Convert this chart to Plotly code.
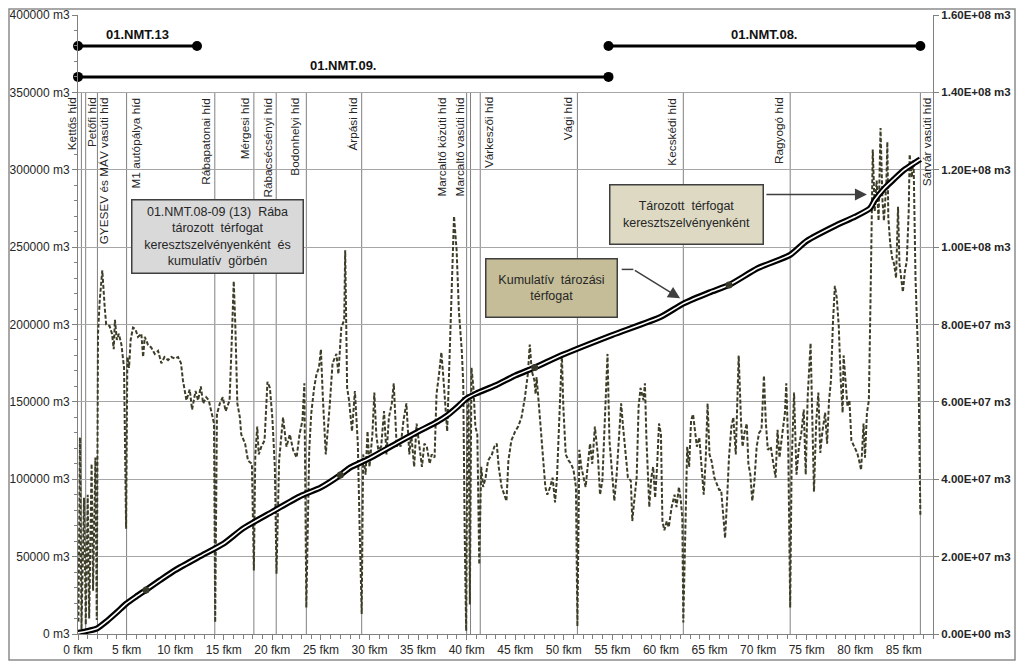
import plotly.graph_objects as go

# ---------------- DATA ----------------
dash_km = [0.05, 0.2, 0.36, 0.62, 0.8, 1.0, 1.15, 1.4, 1.55, 1.79, 1.93, 2.06, 2.23, 2.5, 2.75, 2.9,
           3.25, 3.5, 3.68, 3.8, 4.0, 4.2, 4.47, 4.74, 4.95, 5.08, 5.25, 5.42, 5.66, 5.9, 6.18, 6.52,
           6.7, 6.87, 7.2, 7.55, 7.9, 8.24, 8.58, 8.9, 9.27, 9.6, 9.96, 10.3, 10.6, 10.8, 11.16, 11.5,
           11.74, 12.1, 12.36, 12.64, 12.88, 13.2, 13.46, 13.73, 14.0, 14.12, 14.3, 14.6, 14.9, 15.2,
           15.45, 15.6, 15.8, 16.03, 16.2, 16.4, 16.66, 16.8, 17.2, 17.5, 17.9, 18.1, 18.25, 18.45,
           18.6, 18.87, 19.2, 19.5, 19.75, 20.0, 20.26, 20.43, 20.7, 21.1, 21.46, 21.8, 22.14, 22.5,
           22.8, 23.1, 23.3, 23.5, 23.8, 24.0, 24.3, 24.55, 24.8, 25.0, 25.2, 25.5, 25.9, 26.2, 26.6,
           26.8, 27.1, 27.4, 27.5, 27.7, 27.9, 28.2, 28.5, 28.8, 29.0, 29.2, 29.35, 29.6, 29.8, 30.0,
           30.3, 30.5, 30.7, 30.9, 31.2, 31.5, 31.75, 32.0, 32.3, 32.5, 32.8, 33.0, 33.2, 33.5, 33.8,
           34.1, 34.3, 34.6, 34.85, 35.1, 35.4, 35.65, 35.9, 36.2, 36.4, 36.7, 36.9, 37.16, 37.4, 37.6,
           37.8, 38.0, 38.3, 38.5, 38.7, 38.97, 39.2, 39.5, 39.65, 39.8, 39.95, 40.1, 40.2, 40.33, 40.5,
           40.7, 40.9, 41.1, 41.3, 41.5, 41.7, 41.95, 42.2, 42.6, 42.85, 43.1, 43.3, 43.6, 43.9, 44.1,
           44.3, 44.6, 45.0, 45.3, 45.65, 46.0, 46.3, 46.5, 46.7, 46.97, 47.1, 47.2, 47.45, 47.7, 48.1,
           48.3, 48.6, 48.85, 49.1, 49.3, 49.6, 49.8, 49.95, 50.2, 50.5, 50.75, 51.0, 51.25, 51.4, 51.6,
           51.8, 52.0, 52.25, 52.45, 52.7, 52.93, 53.2, 53.5, 53.73, 53.97, 54.2, 54.4, 54.5, 54.7, 54.9,
           55.2, 55.44, 55.7, 55.9, 56.1, 56.4, 56.6, 56.9, 57.05, 57.25, 57.5, 57.7, 57.9, 58.2, 58.35,
           58.5, 58.8, 59.0, 59.2, 59.4, 59.6, 59.8, 60.0, 60.15, 60.35, 60.6, 60.8, 61.1, 61.4, 61.6,
           61.85, 62.05, 62.2, 62.3, 62.5, 62.7, 62.9, 63.1, 63.3, 63.5, 63.7, 63.95, 64.2, 64.4, 64.6,
           64.8, 65.0, 65.2, 65.5, 65.75, 66.0, 66.2, 66.4, 66.6, 66.8, 67.0, 67.25, 67.45, 67.7, 67.85,
           68.0, 68.25, 68.4, 68.6, 68.83, 69.0, 69.2, 69.4, 69.6, 69.85, 70.1, 70.35, 70.6, 70.8, 71.0,
           71.3, 71.5, 71.8, 72.0, 72.2, 72.5, 72.76, 72.9, 73.1, 73.3, 73.45, 73.7, 73.95, 74.2, 74.45,
           74.7, 74.9, 75.1, 75.4, 75.55, 75.75, 75.97, 76.2, 76.4, 76.6, 76.9, 77.1, 77.3, 77.5, 77.7,
           77.9, 78.1, 78.3, 78.5, 78.7, 78.8, 79.0, 79.2, 79.4, 79.6, 79.9, 80.2, 80.4, 80.6, 80.85,
           81.0, 81.2, 81.4, 81.6, 81.8, 82.0, 82.2, 82.4, 82.6, 82.8, 82.95, 83.2, 83.3, 83.4, 83.6,
           83.8, 84.0, 84.2, 84.4, 84.55, 84.75, 84.9, 85.1, 85.3, 85.5, 85.6, 85.8, 86.0, 86.2, 86.35,
           86.5, 86.7]
dash_m3 = [8000, 127000, 3000, 88000, 6000, 90000, 10000, 110000, 28000, 114000, 9000, 194000, 215000, 235000, 211000, 200000,
           199000, 194000, 184000, 203000, 190000, 194000, 187000, 172000, 68000, 179000, 172000, 190000, 198000, 197000, 192000, 194000,
           179000, 192000, 187000, 185000, 181000, 183000, 175000, 179000, 177000, 179000, 178000, 179000, 175000, 164000, 151000, 158000,
           145000, 157000, 151000, 160000, 149000, 153000, 151000, 144000, 136000, 7500, 142000, 149000, 153000, 144000,
           148000, 151000, 185000, 228000, 198000, 149000, 140000, 129000, 123000, 112000, 110000, 41000, 116000, 134000,
           116000, 121000, 125000, 163000, 159000, 140000, 108000, 39000, 112000, 140000, 121000, 129000, 119000, 114000,
           129000, 138000, 162000, 17000, 119000, 142000, 159000, 168000, 172000, 184000, 153000, 116000, 147000, 175000, 181000,
           168000, 198000, 203000, 248000, 159000, 151000, 131000, 157000, 123000, 65000, 13000, 116000, 103000, 131000, 108000,
           129000, 156000, 129000, 119000, 121000, 144000, 116000, 140000, 149000, 162000, 121000, 125000, 121000, 138000, 149000,
           116000, 129000, 108000, 136000, 123000, 108000, 123000, 121000, 110000, 116000, 114000, 155000, 168000, 182000, 166000,
           151000, 131000, 190000, 237000, 270000, 248000, 209000, 183000, 162000, 65000, 2000, 151000, 155000, 19000, 172000,
           159000, 134000, 129000, 45000, 108000, 95000, 101000, 112000, 116000, 121000, 123000, 108000, 95000, 90000, 86000,
           112000, 125000, 131000, 134000, 140000, 153000, 168000, 187000, 170000, 164000, 155000, 166000, 147000, 125000, 95000,
           90000, 95000, 101000, 85000, 101000, 147000, 181000, 147000, 116000, 112000, 110000, 106000, 95000, 5000, 119000,
           108000, 103000, 95000, 108000, 123000, 110000, 134000, 116000, 90000, 99000, 131000, 162000, 181000, 125000, 108000,
           86000, 103000, 129000, 149000, 134000, 116000, 101000, 99000, 73000, 86000, 101000, 147000, 159000, 151000, 162000,
           127000, 82000, 101000, 108000, 88000, 108000, 136000, 129000, 73000, 67000, 73000, 69000, 82000, 90000, 82000,
           95000, 86000, 75000, 7500, 73000, 121000, 108000, 138000, 142000, 129000, 121000, 127000, 103000, 90000, 112000,
           149000, 116000, 112000, 101000, 97000, 93000, 93000, 75000, 62000, 86000, 114000, 134000, 140000, 116000, 151000,
           180000, 136000, 121000, 130000, 136000, 110000, 103000, 86000, 97000, 121000, 130000, 132000, 167000, 136000, 119000,
           121000, 114000, 101000, 132000, 114000, 130000, 143000, 162000, 121000, 17000, 110000, 156000, 103000, 121000, 130000,
           145000, 103000, 153000, 188000, 147000, 92000, 136000, 156000, 117000, 130000, 143000, 123000, 151000, 164000, 201000,
           225000, 217000, 199000, 164000, 143000, 180000, 160000, 147000, 151000, 125000, 121000, 117000, 112000, 106000, 136000,
           114000, 143000, 151000, 229000, 313000, 273000, 293000, 267000, 327000, 280000, 267000, 291000, 318000, 269000, 252000,
           243000, 239000, 230000, 276000, 239000, 230000, 221000, 234000, 241000, 273000, 310000, 295000, 306000, 230000, 197000,
           173000, 77000]

cum_km = [0, 1, 2, 3, 4, 5, 6, 7, 8.5, 10, 12.5, 15, 17, 20, 23, 25, 27, 28, 30, 33, 35, 37, 38, 39, 40, 41, 43, 45,
          47, 50, 55, 60, 62.3, 65, 67, 70, 73.3, 75, 78, 80, 81.5, 82, 83, 84, 85, 86, 86.7]
cum_m3 = [0.3e6, 0.8e6, 1.5e6, 3.4e6, 5.6e6, 7.9e6, 9.7e6, 11.4e6, 14.0e6, 16.5e6, 20.0e6, 23.4e6, 27.3e6, 31.6e6,
          35.8e6, 37.9e6, 41.1e6, 43.0e6, 45.4e6, 49.6e6, 52.3e6, 54.9e6, 56.5e6, 58.6e6, 60.9e6, 62.2e6, 64.3e6,
          66.8e6, 68.9e6, 72.3e6, 77.3e6, 82.0e6, 85.4e6, 88.3e6, 90.2e6, 94.6e6, 98.0e6, 101.6e6, 105.6e6,
          107.9e6, 110.0e6, 112.1e6, 115.2e6, 117.6e6, 119.9e6, 121.6e6, 122.7e6]
cum_marker_km = [7, 27, 47, 67]

bridge_names = ["Kettős híd", "Petőfi híd", "GYESEV és MÁV vasúti híd", "M1 autópálya híd",
                "Rábapatonai híd", "Mérgesi híd", "Rábacsécsényi híd", "Bodonhelyi híd", "Árpási híd",
                "Marcaltő közúti híd", "Marcaltő vasúti híd", "Várkeszői híd", "Vági híd",
                "Kecskédi híd", "Ragyogó híd", "Sárvár vasúti híd"]
bridge_km = [0.35, 0.79, 2.0, 5.0, 14.08, 18.1, 20.4, 23.5, 29.2, 40.0, 40.4, 41.4, 51.4, 62.3, 73.3, 86.7]

section_names = ["01.NMT.13", "01.NMT.09.", "01.NMT.08."]
section_start = [0, 0, 54.6]
section_end = [12.25, 54.6, 86.7]
section_level = [380000, 360000, 380000]

y_ticks = [0, 50000, 100000, 150000, 200000, 250000, 300000, 350000, 400000]
y2_ticks = [0, 2e7, 4e7, 6e7, 8e7, 1e8, 1.2e8, 1.4e8, 1.6e8]
x_ticks = list(range(0, 90, 5))

# ---------------- LAYOUT HELPERS ----------------
FONT = "Liberation Sans, Arial, sans-serif"
GRID = "#a6a6a6"
TXT = "#262626"
# label offset from bridge line, in px (negative = left of the line)
label_shift_px = [-10, 7, 6, 9, -9, -8, -8, -11, -9, -25, -11, 9, -10, -11, -11, 7]

# the page body has an 8px margin: figure size/margins compensate so the plot lands where the reference has it
FIG_W, FIG_H = 1008, 653
M_L, M_R, M_T, M_B = 70, 83, 7, 27
PLOT_W = FIG_W - M_L - M_R
PLOT_H = FIG_H - M_T - M_B

fig = go.Figure()

# dashed cross-section volume
fig.add_trace(go.Scatter(x=dash_km, y=dash_m3, mode="lines", yaxis="y",
                         line=dict(color="#3e3e28", width=2, dash="4px,2px"),
                         hoverinfo="skip"))

# section bars
for name, s, e, lv in zip(section_names, section_start, section_end, section_level):
    fig.add_trace(go.Scatter(x=[s, e], y=[lv, lv], mode="lines+markers", yaxis="y",
                             line=dict(color="black", width=3),
                             marker=dict(color="black", size=10),
                             cliponaxis=False, hoverinfo="skip"))

# cumulative double line
fig.add_trace(go.Scatter(x=cum_km, y=cum_m3, mode="lines", yaxis="y2", line_shape="spline",
                         line=dict(color="black", width=6, smoothing=0.6), hoverinfo="skip"))
fig.add_trace(go.Scatter(x=cum_km, y=cum_m3, mode="lines", yaxis="y2", line_shape="spline",
                         line=dict(color="white", width=1.6, smoothing=0.6), hoverinfo="skip"))
mk_x = [k for k in cum_km if k in cum_marker_km]
mk_y = [cum_m3[cum_km.index(k)] for k in mk_x]
fig.add_trace(go.Scatter(x=mk_x, y=mk_y, mode="markers", yaxis="y2",
                         marker=dict(color="#3a3a2a", size=7), hoverinfo="skip"))

shapes = []
annotations = []

# bridge lines + labels
for name, km, sh in zip(bridge_names, bridge_km, label_shift_px):
    shapes.append(dict(type="line", xref="x", yref="y", x0=km, x1=km, y0=0, y1=350000,
                       line=dict(color="#808080", width=1), layer="below"))
    annotations.append(dict(x=km, y=350000, xref="x", yref="y", text=name,
                            textangle=-90, showarrow=False, xanchor="center", yanchor="top",
                            xshift=sh, yshift=-3, font=dict(family=FONT, size=11.8, color=TXT)))

# section labels
for name, s, e, lv in zip(section_names, section_start, section_end, section_level):
    annotations.append(dict(x=(s + e) / 2, y=lv, xref="x", yref="y", text="<b>%s</b>" % name,
                            showarrow=False, yanchor="bottom", yshift=2,
                            font=dict(family=FONT, size=13, color="#111")))

# text boxes
annotations.append(dict(x=14.4, y=256800, xref="x", yref="y",
                        text="01.NMT.08-09 (13)  Rába<br>tározott  térfogat<br>keresztszelvényenként  és<br>kumulatív  görbén",
                        showarrow=False, bgcolor="#d9d9d9", bordercolor="#3f3f3f", borderwidth=1.5,
                        borderpad=2, width=166, height=68, align="center",
                        font=dict(family=FONT, size=12.5, color=TXT)))
annotations.append(dict(x=62.65, y=271000, xref="x", yref="y",
                        text="Tározott  térfogat<br>keresztszelvényenként",
                        showarrow=False, bgcolor="#ddd9c3", bordercolor="#3f3f3f", borderwidth=1.5,
                        borderpad=2, width=148, height=54, align="center",
                        font=dict(family=FONT, size=12.5, color=TXT)))
annotations.append(dict(x=48.7, y=223500, xref="x", yref="y",
                        text="Kumulatív  tározási<br>térfogat",
                        showarrow=False, bgcolor="#c4bd97", bordercolor="#3f3f3f", borderwidth=1.5,
                        borderpad=2, width=126, height=53, align="center",
                        font=dict(family=FONT, size=12.5, color=TXT)))

# arrows
annotations.append(dict(x=81.2, y=284000, ax=70.7, ay=284000, xref="x", yref="y",
                        axref="x", ayref="y", text="", showarrow=True, arrowhead=2,
                        arrowsize=1.6, arrowwidth=1.5, arrowcolor="#3f3f3f"))
shapes.append(dict(type="line", xref="x", yref="y", x0=55.96, x1=57.16, y0=235600, y1=235600,
                   line=dict(color="#3f3f3f", width=1.5)))
annotations.append(dict(x=61.97, y=216900, ax=57.16, ay=235600, xref="x", yref="y",
                        axref="x", ayref="y", text="", showarrow=True, arrowhead=2,
                        arrowsize=1.6, arrowwidth=1.5, arrowcolor="#3f3f3f"))

# outer frame along the figure edge
shapes.append(dict(type="rect", xref="paper", yref="paper",
                   x0=(1 - M_L) / PLOT_W, x1=(FIG_W - 1 - M_L) / PLOT_W,
                   y0=-(M_B - 1) / PLOT_H, y1=1 + (M_T - 1) / PLOT_H,
                   line=dict(color="#8c8c8c", width=1.5)))

fig.update_layout(
    template="none",
    width=FIG_W, height=FIG_H,
    margin=dict(l=M_L, r=M_R, t=M_T, b=M_B, autoexpand=False),
    paper_bgcolor="white", plot_bgcolor="white",
    showlegend=False,
    shapes=shapes, annotations=annotations,
    xaxis=dict(range=[0, 88], tickvals=x_ticks, ticktext=["%d fkm" % v for v in x_ticks],
               tickangle=0, automargin=False,
               ticks="outside", ticklen=5, tickcolor="#808080", showgrid=False, zeroline=False,
               showline=True, linecolor="#808080", linewidth=1,
               minor=dict(dtick=1, ticks="outside", ticklen=4, tickcolor="#808080", showgrid=False),
               tickfont=dict(family=FONT, size=12, color=TXT)),
    yaxis=dict(range=[0, 400000], tickvals=y_ticks, ticktext=["%d m3" % v for v in y_ticks],
               automargin=False,
               ticks="outside", ticklen=5, tickcolor="#808080", showgrid=True, gridcolor=GRID,
               gridwidth=1, zeroline=False, showline=True, linecolor="#808080",
               minor=dict(dtick=10000, ticks="outside", ticklen=3, tickcolor="#808080", showgrid=False),
               tickfont=dict(family=FONT, size=12, color=TXT)),
    yaxis2=dict(range=[0, 1.6e8], overlaying="y", side="right", tickvals=y2_ticks,
                ticktext=["<b>%s m3</b>" % ("%.2E" % v) for v in y2_ticks], automargin=False,
                ticks="outside", ticklen=5, tickcolor="#808080", showgrid=False, zeroline=False,
                showline=True, linecolor="#808080",
                tickfont=dict(family=FONT, size=11.5, color=TXT)),
)

fig.write_html("out.html")
